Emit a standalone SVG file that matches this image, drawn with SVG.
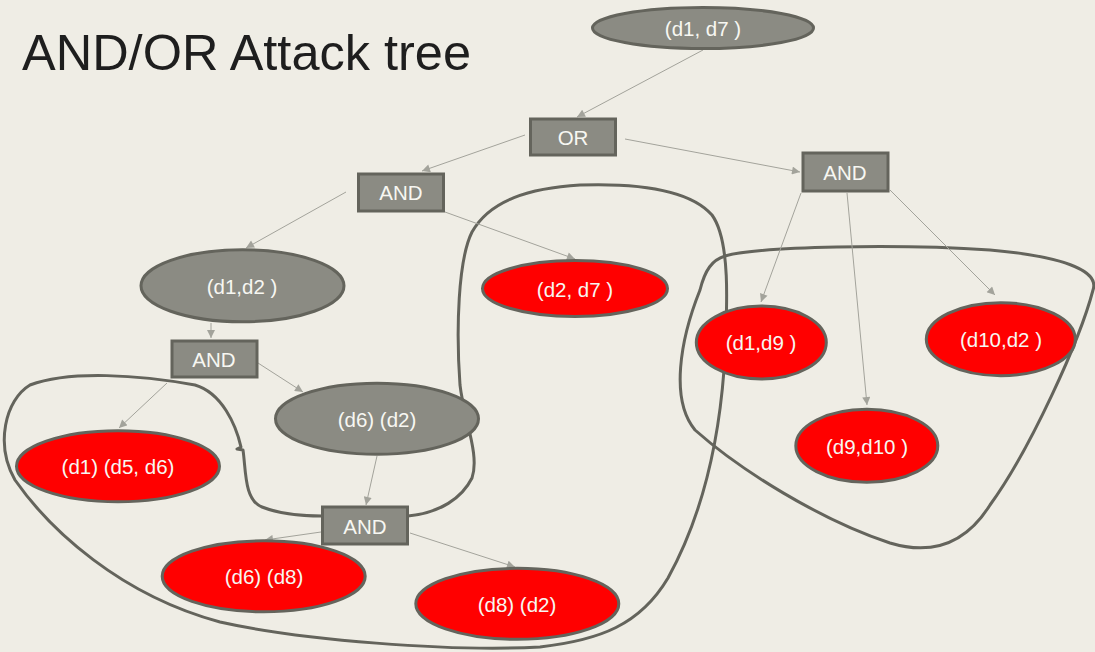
<svg xmlns="http://www.w3.org/2000/svg" width="1095" height="652" viewBox="0 0 1095 652">
<style>
.bg{fill:#EFEDE5}
.g{fill:#8B8B83;stroke:#64645C;stroke-width:3}
.r{fill:#FF0000;stroke:#64645C;stroke-width:3}
.t{font-family:"Liberation Sans",Arial,sans-serif;font-size:20.5px;fill:#F7F7F2;text-anchor:middle}
.c{stroke:#A3A39B;stroke-width:1;fill:none;marker-end:url(#ah)}
.loop{fill:none;stroke:#64645C;stroke-width:3;stroke-linejoin:round}
.title{font-family:"Liberation Sans",Arial,sans-serif;font-size:50.5px;fill:#1E1E1E}
</style>
<defs>
<marker id="ah" viewBox="0 0 10 10" refX="10" refY="5" markerWidth="9" markerHeight="8" markerUnits="userSpaceOnUse" orient="auto">
<path d="M0,0 L10,5 L0,10 Z" fill="#A3A39B"/>
</marker>
</defs>
<rect class="bg" x="0" y="0" width="1095" height="652"/>
<text class="title" x="22" y="70">AND/OR Attack tree</text>

<g id="loops">
<path class="loop" d="M408,516 C440,513 462,498 472,478 C480,455 464,420 460,385 C456,330 458,260 472,232 C490,200 530,188 580,185 C640,183 690,190 712,215 C730,240 728,300 724,370 C718,450 700,520 668,578 C640,625 600,640 540,647 C450,652 300,640 220,622 C120,595 50,530 15,480 C-5,445 5,400 30,385 C70,370 140,375 195,385 C222,393 236,425 241,447 L237,449 L243,450 C246,470 244,500 262,507 C280,514 300,516 322,516"/>
<path class="loop" d="M725,256 C760,246 900,244 990,250 C1060,256 1100,270 1093,290 C1080,340 1030,450 990,505 C965,545 930,555 890,543 C820,520 740,470 695,430 C670,400 680,340 700,290 C705,270 712,260 725,256 Z"/>
</g>

<g id="connectors">
<line class="c" x1="703" y1="50" x2="577" y2="117"/>
<line class="c" x1="625" y1="139" x2="800" y2="172"/>
<line class="c" x1="525" y1="135" x2="422" y2="171"/>
<line class="c" x1="346" y1="192" x2="246" y2="248"/>
<line class="c" x1="445" y1="212" x2="575" y2="259"/>
<line class="c" x1="211" y1="323" x2="211" y2="338"/>
<line class="c" x1="258" y1="363" x2="303" y2="392"/>
<line class="c" x1="167" y1="383" x2="119" y2="428"/>
<line class="c" x1="377" y1="456" x2="366" y2="505"/>
<line class="c" x1="321" y1="532" x2="265" y2="540"/>
<line class="c" x1="410" y1="533" x2="515" y2="567"/>
<line class="c" x1="801" y1="193" x2="761" y2="302"/>
<line class="c" x1="847" y1="193" x2="867" y2="405"/>
<line class="c" x1="890" y1="190" x2="995" y2="295"/>
</g>

<g id="n_d1d7"><ellipse class="g" cx="703" cy="28" rx="110.5" ry="20.5"/><text class="t" x="703" y="35.5">(d1, d7 )</text></g>
<g id="n_or"><rect class="g" x="530.5" y="119" width="85" height="36"/><text class="t" x="573" y="144.5">OR</text></g>
<g id="n_and1"><rect class="g" x="358.5" y="174" width="85" height="37"/><text class="t" x="401" y="200">AND</text></g>
<g id="n_and2"><rect class="g" x="803" y="153" width="85" height="38"/><text class="t" x="845" y="180">AND</text></g>
<g id="n_d1d2"><ellipse class="g" cx="242.5" cy="285.8" rx="101.5" ry="36"/><text class="t" x="242" y="293.5">(d1,d2 )</text></g>
<g id="n_d2d7"><ellipse class="r" cx="575" cy="288.5" rx="92.5" ry="28"/><text class="t" x="575" y="296.5">(d2, d7 )</text></g>
<g id="n_and3"><rect class="g" x="172" y="341" width="85" height="36"/><text class="t" x="214" y="366.5">AND</text></g>
<g id="n_d6d2"><ellipse class="g" cx="377" cy="418.7" rx="101.5" ry="35.5"/><text class="t" x="377" y="426.5">(d6) (d2)</text></g>
<g id="n_d1d5d6"><ellipse class="r" cx="118" cy="466.3" rx="101.5" ry="35.5"/><text class="t" x="118" y="474">(d1) (d5, d6)</text></g>
<g id="n_and4"><rect class="g" x="322.5" y="507" width="85" height="37"/><text class="t" x="365" y="533.5">AND</text></g>
<g id="n_d6d8"><ellipse class="r" cx="263.7" cy="576.3" rx="101.5" ry="35.5"/><text class="t" x="264" y="584">(d6) (d8)</text></g>
<g id="n_d8d2"><ellipse class="r" cx="517.3" cy="603.8" rx="101.5" ry="35.5"/><text class="t" x="517" y="611.5">(d8) (d2)</text></g>
<g id="n_d1d9"><ellipse class="r" cx="761.3" cy="342.5" rx="65" ry="36.5"/><text class="t" x="761" y="350">(d1,d9 )</text></g>
<g id="n_d10d2"><ellipse class="r" cx="1000.8" cy="339.2" rx="74.5" ry="36.5"/><text class="t" x="1001" y="347">(d10,d2 )</text></g>
<g id="n_d9d10"><ellipse class="r" cx="866.8" cy="445.8" rx="71" ry="36.5"/><text class="t" x="867" y="453.5">(d9,d10 )</text></g>
</svg>
